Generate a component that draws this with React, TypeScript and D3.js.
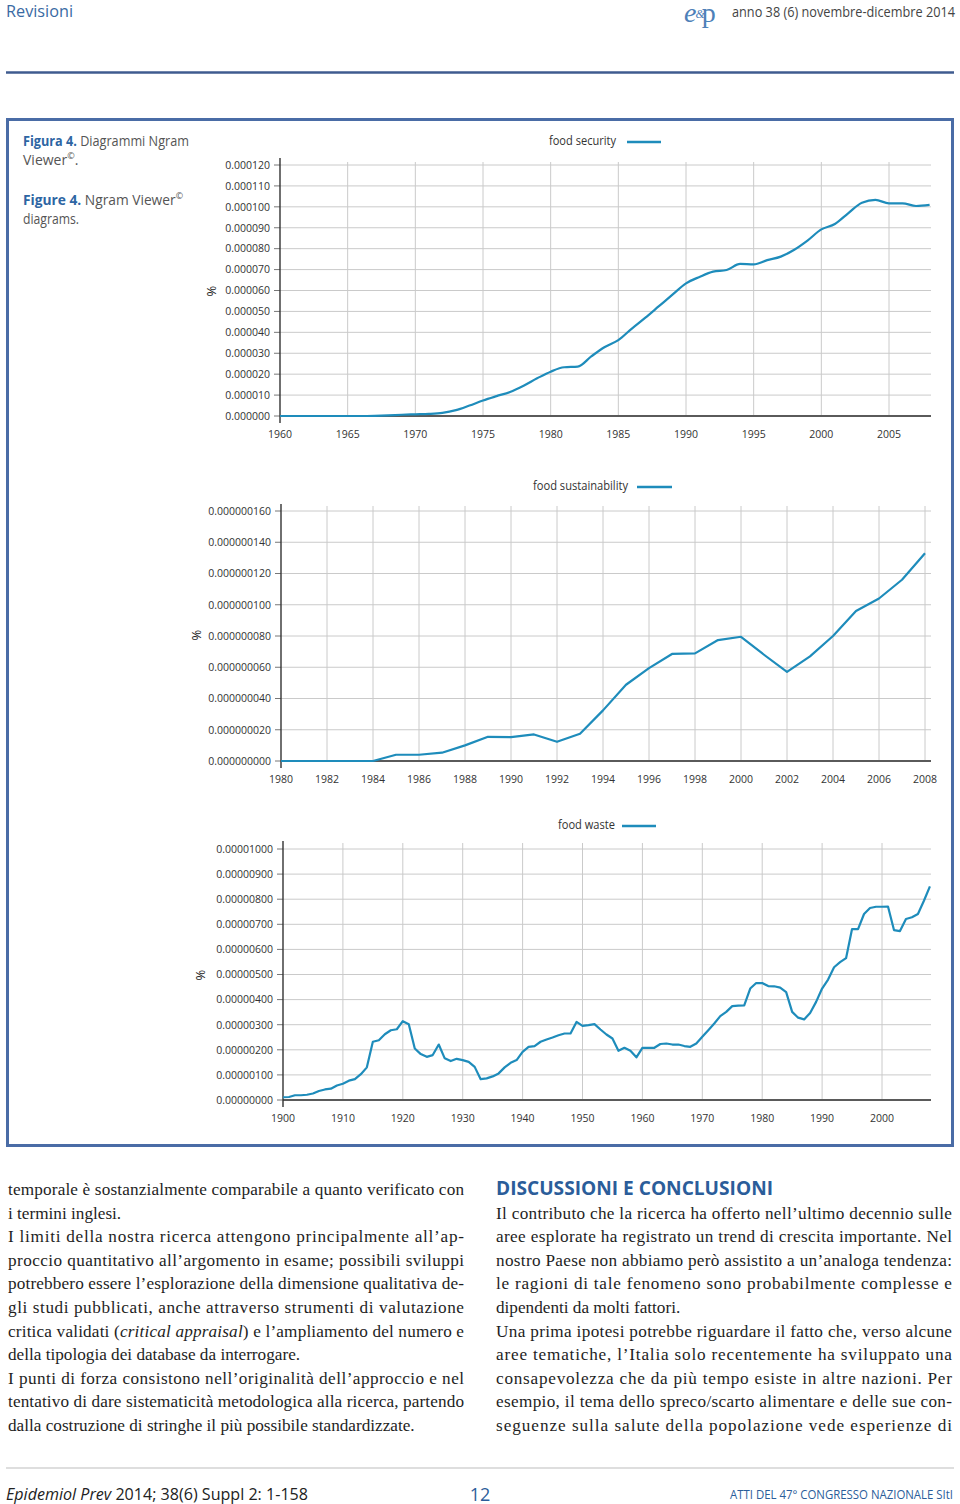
import React from "react";
import * as d3 from "d3";

// ---------------- DATA ----------------
// food security, values in units of 1e-5 (percent), 1960..2008
const securityStartYear = 1960;
const securityValues = [
  0, 0, 0, 0, 0, 0, 0, 0.01, 0.03, 0.06,
  0.08, 0.1, 0.15, 0.28, 0.5, 0.74, 0.95, 1.15, 1.45, 1.8,
  2.12, 2.33, 2.36, 2.85, 3.3, 3.63, 4.18, 4.7, 5.25, 5.8,
  6.34, 6.65, 6.9, 6.98, 7.27, 7.25, 7.45, 7.62, 7.95, 8.4,
  8.92, 9.18, 9.7, 10.2, 10.33, 10.17, 10.17, 10.04, 10.09,
];
const securityXTicks = [1960, 1965, 1970, 1975, 1980, 1985, 1990, 1995, 2000, 2005];
const securityYTicks = [0, 0.00001, 0.00002, 0.00003, 0.00004, 0.00005, 0.00006, 0.00007, 0.00008, 0.00009, 0.0001, 0.00011, 0.00012];

// food sustainability, values in units of 1e-8 (percent), 1980..2008
const sustainabilityStartYear = 1980;
const sustainabilityValues = [
  0, 0, 0, 0, 0, 0.4, 0.4, 0.53, 1.0, 1.55,
  1.53, 1.7, 1.23, 1.74, 3.24, 4.88, 5.94, 6.85, 6.89, 7.74,
  7.95, 6.8, 5.7, 6.7, 8.0, 9.6, 10.4, 11.6, 13.3,
];
const sustainabilityXTicks = [1980, 1982, 1984, 1986, 1988, 1990, 1992, 1994, 1996, 1998, 2000, 2002, 2004, 2006, 2008];
const sustainabilityYTicks = [0, 2e-8, 4e-8, 6e-8, 8e-8, 1e-7, 1.2e-7, 1.4e-7, 1.6e-7];

// food waste, values in units of 1e-6 (percent), 1900..2008
const wasteStartYear = 1900;
const wasteValues = [
  0.11, 0.12, 0.19, 0.19, 0.21, 0.26, 0.36, 0.42, 0.45, 0.58,
  0.65, 0.77, 0.83, 1.03, 1.3, 2.32, 2.38, 2.62, 2.78, 2.82,
  3.14, 3.02, 2.05, 1.83, 1.72, 1.79, 2.21, 1.66, 1.55, 1.64,
  1.59, 1.52, 1.32, 0.83, 0.86, 0.94, 1.06, 1.3, 1.48, 1.59,
  1.92, 2.12, 2.15, 2.32, 2.41, 2.49, 2.58, 2.65, 2.65, 3.11,
  2.95, 2.98, 3.02, 2.81, 2.61, 2.45, 1.96, 2.08, 1.96, 1.7,
  2.08, 2.08, 2.08, 2.23, 2.25, 2.21, 2.21, 2.15, 2.12, 2.25,
  2.52, 2.78, 3.05, 3.34, 3.51, 3.74, 3.76, 3.77, 4.44, 4.66,
  4.66, 4.54, 4.53, 4.48, 4.3, 3.51, 3.28, 3.21, 3.47, 3.91,
  4.44, 4.8, 5.29, 5.49, 5.65, 6.81, 6.81, 7.41, 7.65, 7.7,
  7.7, 7.71, 6.77, 6.73, 7.21, 7.28, 7.41, 7.94, 8.51,
];
const wasteXTicks = [1900, 1910, 1920, 1930, 1940, 1950, 1960, 1970, 1980, 1990, 2000];
const wasteYTicks = [0, 1e-6, 2e-6, 3e-6, 4e-6, 5e-6, 6e-6, 7e-6, 8e-6, 9e-6, 1e-5];

// ---------------- TEXT ----------------
const leftLines: { parts: { t: string; i?: boolean }[]; j: boolean }[] = [
  { parts: [{ t: "temporale è sostanzialmente comparabile a quanto verificato con" }], j: true },
  { parts: [{ t: "i termini inglesi." }], j: false },
  { parts: [{ t: "I limiti della nostra ricerca attengono principalmente all’ap-" }], j: true },
  { parts: [{ t: "proccio quantitativo all’argomento in esame; possibili sviluppi" }], j: true },
  { parts: [{ t: "potrebbero essere l’esplorazione della dimensione qualitativa de-" }], j: true },
  { parts: [{ t: "gli studi pubblicati, anche attraverso strumenti di valutazione" }], j: true },
  { parts: [{ t: "critica validati (" }, { t: "critical appraisal", i: true }, { t: ") e l’ampliamento del numero e" }], j: true },
  { parts: [{ t: "della tipologia dei database da interrogare." }], j: false },
  { parts: [{ t: "I punti di forza consistono nell’originalità dell’approccio e nel" }], j: true },
  { parts: [{ t: "tentativo di dare sistematicità metodologica alla ricerca, partendo" }], j: true },
  { parts: [{ t: "dalla costruzione di stringhe il più possibile standardizzate." }], j: false },
];
const rightLines: { parts: { t: string; i?: boolean }[]; j: boolean }[] = [
  { parts: [{ t: "Il contributo che la ricerca ha offerto nell’ultimo decennio sulle" }], j: true },
  { parts: [{ t: "aree esplorate ha registrato un trend di crescita importante. Nel" }], j: true },
  { parts: [{ t: "nostro Paese non abbiamo però assistito a un’analoga tendenza:" }], j: true },
  { parts: [{ t: "le ragioni di tale fenomeno sono probabilmente complesse e" }], j: true },
  { parts: [{ t: "dipendenti da molti fattori." }], j: false },
  { parts: [{ t: "Una prima ipotesi potrebbe riguardare il fatto che, verso alcune" }], j: true },
  { parts: [{ t: "aree tematiche, l’Italia solo recentemente ha sviluppato una" }], j: true },
  { parts: [{ t: "consapevolezza che da più tempo esiste in altre nazioni. Per" }], j: true },
  { parts: [{ t: "esempio, il tema dello spreco/scarto alimentare e delle sue con-" }], j: true },
  { parts: [{ t: "seguenze sulla salute della popolazione vede esperienze di" }], j: true },
];

const SANS = "'Open Sans', 'Noto Sans', sans-serif";
const SERIF = "'Liberation Serif', 'DejaVu Serif', serif";
const CURVE = "#1e8cbb";
const GRID = "#cacaca";
const BLUE = "#2d65a3";

type ChartProps = {
  start: number;
  values: number[];
  unit: number;
  xDomain: [number, number];
  xRange: [number, number];
  yDomain: [number, number];
  yRange: [number, number];
  xTicks: number[];
  yTicks: number[];
  decimals: number;
  gridRight: number;
  gridTop: number;
  axisTop: number;
  legend: string;
  legendX: number;
  legendW: number;
  legendY: number;
  legendLine: [number, number];
  pct: [number, number];
  smooth?: boolean;
};

function NgramChart(p: ChartProps) {
  const x = d3.scaleLinear().domain(p.xDomain).range(p.xRange);
  const y = d3.scaleLinear().domain(p.yDomain).range(p.yRange);
  const ax = p.xRange[0];
  const ay = p.yRange[0];
  const fmt = d3.format(`.${p.decimals}f`);
  const line = d3
    .line<number>()
    .x((_, i) => x(p.start + i))
    .y((v) => y(v * p.unit))
    .curve(p.smooth ? d3.curveMonotoneX : d3.curveLinear);
  return (
    <g>
      {p.yTicks.slice(1).map((t) => (
        <line key={"h" + t} x1={ax} x2={p.gridRight} y1={y(t)} y2={y(t)} stroke={GRID} strokeWidth={1} />
      ))}
      {p.xTicks.slice(1).map((t) => (
        <line key={"v" + t} x1={x(t)} x2={x(t)} y1={p.gridTop} y2={ay} stroke={GRID} strokeWidth={1} />
      ))}
      {p.yTicks.map((t) => (
        <g key={"yt" + t}>
          <line x1={ax - 6} x2={ax} y1={y(t)} y2={y(t)} stroke="#777" strokeWidth={1} />
          <text x={ax - 10} y={y(t) + 3.8} textAnchor="end" fontFamily={SANS} fontSize={10.5} fill="#333">
            {fmt(t)}
          </text>
        </g>
      ))}
      {p.xTicks.map((t) => (
        <text key={"xt" + t} x={x(t)} y={ay + 22} textAnchor="middle" fontFamily={SANS} fontSize={10.5} fill="#333">
          {t}
        </text>
      ))}
      <line x1={ax} x2={p.gridRight} y1={ay} y2={ay} stroke="#5a5a5a" strokeWidth={2} />
      <line x1={ax} x2={ax} y1={p.axisTop} y2={ay + 7} stroke="#333" strokeWidth={1.4} />
      <path d={line(p.values) || ""} fill="none" stroke={CURVE} strokeWidth={2.2} strokeLinejoin="round" />
      <text
        x={p.legendX}
        y={p.legendY}
        fontFamily={SANS}
        fontSize={12}
        fill="#333"
        textLength={p.legendW}
        lengthAdjust="spacingAndGlyphs"
      >
        {p.legend}
      </text>
      <line x1={p.legendLine[0]} x2={p.legendLine[1]} y1={p.legendY - 3} y2={p.legendY - 3} stroke={CURVE} strokeWidth={2.4} />
      <text
        transform={`translate(${p.pct[0]},${p.pct[1]}) rotate(-90)`}
        textAnchor="middle"
        dy={4.5}
        fontFamily={SANS}
        fontSize={13}
        fill="#222"
      >
        %
      </text>
    </g>
  );
}

function Column({
  lines,
  x,
  y0,
  width,
}: {
  lines: { parts: { t: string; i?: boolean }[]; j: boolean }[];
  x: number;
  y0: number;
  width: number;
}) {
  return (
    <g>
      {lines.map((l, k) => (
        <text
          key={k}
          x={x}
          y={y0 + k * 23.6}
          fontFamily={SERIF}
          fontSize={17.2}
          fill="#1e1e1e"
          {...(l.j ? { textLength: width, lengthAdjust: "spacing" } : {})}
        >
          {l.parts.map((pt, m) => (
            <tspan key={m} fontStyle={pt.i ? "italic" : "normal"}>
              {pt.t}
            </tspan>
          ))}
        </text>
      ))}
    </g>
  );
}

export default function App() {
  return (
    <svg
      width={960}
      height={1504}
      viewBox="0 0 960 1504"
      style={{ position: "absolute", left: 0, top: 0, display: "block", background: "#fff" }}
    >
      {/* header */}
      <text x={6} y={17} fontFamily={SANS} fontSize={17} fill="#3a6aa3" textLength={67} lengthAdjust="spacingAndGlyphs">
        Revisioni
      </text>
      <text x={684} y={22} fontFamily={SERIF} fill="#4d80b8">
        <tspan fontSize={28} fontStyle="italic">e</tspan>
        <tspan fontSize={12} fontStyle="italic" dx={-1} dy={-4}>&amp;</tspan>
        <tspan fontSize={28} dx={-3} dy={4}>p</tspan>
      </text>
      <text
        x={732}
        y={17}
        fontFamily={SANS}
        fontSize={14}
        fill="#444"
        textLength={223}
        lengthAdjust="spacingAndGlyphs"
      >
        anno 38 (6) novembre-dicembre 2014
      </text>
      <line x1={6} x2={954} y1={72.5} y2={72.5} stroke="#3f5b8f" strokeWidth={2.5} />

      {/* figure box */}
      <rect x={7.5} y={119.5} width={945} height={1026} fill="#fff" stroke="#4a6ca6" strokeWidth={3} />

      {/* caption */}
      <text x={23} y={146} fontFamily={SANS} fontSize={14} fill="#555" textLength={166} lengthAdjust="spacingAndGlyphs">
        <tspan fill={BLUE} fontWeight={700}>Figura 4.</tspan>
        <tspan> Diagrammi Ngram</tspan>
      </text>
      <text x={23} y={165} fontFamily={SANS} fontSize={14} fill="#555">
        <tspan>Viewer</tspan>
        <tspan fontSize={9} dy={-6}>©</tspan>
        <tspan dy={6}>.</tspan>
      </text>
      <text x={23} y={205} fontFamily={SANS} fontSize={14} fill="#555" textLength={160} lengthAdjust="spacingAndGlyphs">
        <tspan fill={BLUE} fontWeight={700}>Figure  4.</tspan>
        <tspan>  Ngram  Viewer</tspan>
        <tspan fontSize={9} dy={-6}>©</tspan>
      </text>
      <text x={23} y={224} fontFamily={SANS} fontSize={14} fill="#555" textLength={56} lengthAdjust="spacingAndGlyphs">
        diagrams.
      </text>

      <NgramChart
        start={securityStartYear}
        values={securityValues}
        unit={1e-5}
        xDomain={[1960, 2005]}
        xRange={[280, 889]}
        yDomain={[0, 0.00012]}
        yRange={[416, 165]}
        xTicks={securityXTicks}
        yTicks={securityYTicks}
        decimals={6}
        gridRight={931}
        gridTop={162}
        axisTop={158}
        legend="food security"
        legendX={549}
        legendW={67}
        legendY={145}
        legendLine={[627, 661]}
        pct={[211, 291]}
        smooth
      />
      <NgramChart
        start={sustainabilityStartYear}
        values={sustainabilityValues}
        unit={1e-8}
        xDomain={[1980, 2008]}
        xRange={[281, 925]}
        yDomain={[0, 1.6e-7]}
        yRange={[761, 511]}
        xTicks={sustainabilityXTicks}
        yTicks={sustainabilityYTicks}
        decimals={9}
        gridRight={931}
        gridTop={506}
        axisTop={504}
        legend="food sustainability"
        legendX={533}
        legendW={95}
        legendY={490}
        legendLine={[637, 672]}
        pct={[196, 635]}
      />
      <NgramChart
        start={wasteStartYear}
        values={wasteValues}
        unit={1e-6}
        xDomain={[1900, 2000]}
        xRange={[283, 882]}
        yDomain={[0, 1e-5]}
        yRange={[1100, 849]}
        xTicks={wasteXTicks}
        yTicks={wasteYTicks}
        decimals={8}
        gridRight={931}
        gridTop={843}
        axisTop={841}
        legend="food waste"
        legendX={558}
        legendW={57}
        legendY={829}
        legendLine={[622, 656]}
        pct={[200, 975]}
      />

      {/* body text */}
      <Column lines={leftLines} x={8} y0={1195} width={456} />
      <text
        x={496}
        y={1195}
        fontFamily={SANS}
        fontSize={19.5}
        fontWeight={700}
        fill="#2b5d9a"
        textLength={277}
        lengthAdjust="spacingAndGlyphs"
      >
        DISCUSSIONI E CONCLUSIONI
      </text>
      <Column lines={rightLines} x={496} y0={1218.5} width={456} />

      {/* footer */}
      <line x1={6} x2={954} y1={1468} y2={1468} stroke="#bdbdbd" strokeWidth={1} />
      <text x={6} y={1500} fontFamily={SANS} fontSize={17} fill="#222" textLength={302} lengthAdjust="spacingAndGlyphs">
        <tspan fontStyle="italic">Epidemiol Prev</tspan>
        <tspan> 2014; 38(6) Suppl 2: 1-158</tspan>
      </text>
      <text x={480} y={1501} textAnchor="middle" fontFamily={SANS} fontSize={18} fill="#2b5d9a">
        12
      </text>
      <text
        x={730}
        y={1499}
        fontFamily={SANS}
        fontSize={13.5}
        fill="#2b5d9a"
        textLength={223}
        lengthAdjust="spacingAndGlyphs"
      >
        ATTI DEL 47° CONGRESSO NAZIONALE SItI
      </text>
    </svg>
  );
}
